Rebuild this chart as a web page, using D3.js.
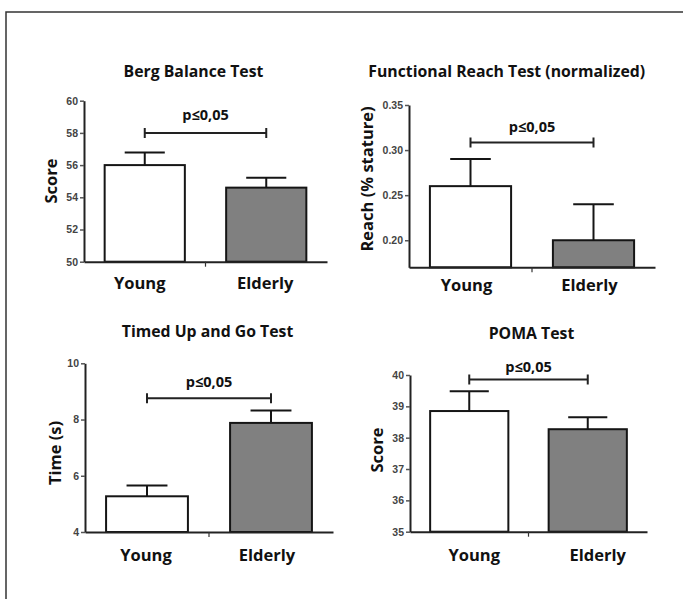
<!DOCTYPE html>
<html>
<head>
<meta charset="utf-8">
<script src="https://cdn.jsdelivr.net/npm/d3@7"></script>
<style>
body { margin: 0; background: #fff; }
svg { display: block; }
</style>
</head>
<body>
<script>
// data
const categories = ['Young', 'Elderly'];
const titles = ['Berg Balance Test', 'Functional Reach Test (normalized)', 'Timed Up and Go Test', 'POMA Test'];
const yLabels = ['Score', 'Reach (% stature)', 'Time (s)', 'Score'];

const bergMean = [56.0, 54.6];
const bergSem = [0.78, 0.62];
const reachMean = [0.26, 0.20];
const reachSem = [0.03, 0.04];
const tugMean = [5.27, 7.88];
const tugSem = [0.38, 0.44];
const pomaMean = [38.85, 38.27];
const pomaSem = [0.63, 0.38];

const bergTicks = [50, 52, 54, 56, 58, 60];
const reachTicks = [0.20, 0.25, 0.30, 0.35];
const tugTicks = [4, 6, 8, 10];
const pomaTicks = [35, 36, 37, 38, 39, 40];

const bergDomain = [50, 60];
const reachDomain = [0.17, 0.35];
const tugDomain = [4, 10];
const pomaDomain = [35, 40];

const sigLevel = [58, 0.3085, 8.76, 39.86];
const sigLabel = 'p\u22640,05';

const svgWidth = 683;
const svgHeight = 599;

// where each panel sits on the page
const layout = [
    {left: 84, right: 327, top: 100.7, bottom: 261.7, titleX: 193.5, titleY: 77, yLabX: 50, yLabY: 181, labDy: 27.5, pDy: 13, fmt: 'd', labShift: [-5, -1]},
    {left: 409, right: 655, top: 105, bottom: 267.3, titleX: 506.7, titleY: 77, yLabX: 366.5, yLabY: 179, labDy: 23.5, pDy: 10, fmt: '.2f', labShift: [-4, -4]},
    {left: 85, right: 333, top: 363.3, bottom: 532, titleX: 207.5, titleY: 336.5, yLabX: 54, yLabY: 453, labDy: 28.7, pDy: 11.5, fmt: 'd', labShift: [-1, -4]},
    {left: 410, right: 647, top: 375, bottom: 531.7, titleX: 531.5, titleY: 339, yLabX: 376.5, yLabY: 450, labDy: 29, pDy: 7.5, fmt: 'd', labShift: [5, 10]}
];

window.onload = main;

function main() {
    const svg = d3.select('body')
        .append('svg')
        .attr('width', svgWidth)
        .attr('height', svgHeight);

    // frame round the figure
    svg.append('path')
        .attr('d', `M6,${svgHeight} L6,12 L${svgWidth},12`)
        .attr('fill', 'none')
        .attr('stroke', '#333')
        .attr('stroke-width', 1.5);

    const means = [bergMean, reachMean, tugMean, pomaMean];
    const sems = [bergSem, reachSem, tugSem, pomaSem];
    const ticks = [bergTicks, reachTicks, tugTicks, pomaTicks];
    const domains = [bergDomain, reachDomain, tugDomain, pomaDomain];

    layout.forEach((l, i) => render_panel(svg, l, i, means[i], sems[i], ticks[i], domains[i]));
}

function render_panel(svg, l, i, mean, sem, ticks, domain) {
    const g = svg.append('g');
    const data = categories.map((c, k) => ({cat: c, mean: mean[k], sem: sem[k]}));

    const x = d3.scaleBand()
        .domain(categories)
        .range([l.left, l.right])
        .paddingInner(0.34)
        .paddingOuter(0.17);

    const y = d3.scaleLinear()
        .domain(domain)
        .range([l.bottom, l.top]);

    const cx = d => x(d.cat) + x.bandwidth() / 2;

    // title
    g.append('text')
        .attr('x', l.titleX)
        .attr('y', l.titleY)
        .attr('text-anchor', 'middle')
        .attr('font-family', '"Open Sans", sans-serif')
        .attr('font-weight', 700)
        .attr('font-size', 15.8)
        .attr('fill', '#111')
        .text(titles[i]);

    // y axis
    const yAxis = g.append('g')
        .attr('transform', `translate(${l.left},0)`)
        .call(d3.axisLeft(y)
            .tickValues(ticks)
            .tickFormat(d3.format(l.fmt))
            .tickSize(4)
            .tickSizeOuter(0)
            .tickPadding(2));
    yAxis.select('.domain').attr('stroke', '#222').attr('stroke-width', 2);
    yAxis.selectAll('.tick line').attr('stroke', '#555').attr('stroke-width', 1.5);
    yAxis.selectAll('.tick text')
        .attr('fill', '#444')
        .attr('font-family', '"Liberation Sans", Arial, sans-serif')
        .attr('font-weight', 700)
        .attr('font-size', 10.5);

    g.append('text')
        .attr('transform', `translate(${l.yLabX},${l.yLabY}) rotate(-90)`)
        .attr('text-anchor', 'middle')
        .attr('dominant-baseline', 'central')
        .attr('font-family', '"Open Sans", sans-serif')
        .attr('font-weight', 700)
        .attr('font-size', 16.5)
        .attr('fill', '#111')
        .text(yLabels[i]);

    // bars
    g.selectAll('rect.bar')
        .data(data)
        .join('rect')
        .attr('class', 'bar')
        .attr('x', d => x(d.cat))
        .attr('y', d => y(d.mean))
        .attr('width', x.bandwidth())
        .attr('height', d => l.bottom - y(d.mean))
        .attr('fill', (d, k) => k === 0 ? '#fff' : '#808080')
        .attr('stroke', '#151515')
        .attr('stroke-width', 2);

    // error bars (upper half only)
    const capW = x.bandwidth() * 0.5;
    g.selectAll('line.whisker')
        .data(data)
        .join('line')
        .attr('class', 'whisker')
        .attr('x1', cx).attr('x2', cx)
        .attr('y1', d => y(d.mean))
        .attr('y2', d => y(d.mean + d.sem))
        .attr('stroke', '#151515')
        .attr('stroke-width', 2);
    g.selectAll('line.cap')
        .data(data)
        .join('line')
        .attr('class', 'cap')
        .attr('x1', d => cx(d) - capW / 2)
        .attr('x2', d => cx(d) + capW / 2)
        .attr('y1', d => y(d.mean + d.sem))
        .attr('y2', d => y(d.mean + d.sem))
        .attr('stroke', '#151515')
        .attr('stroke-width', 2);

    // x axis with a centre tick
    const xAxis = g.append('g')
        .attr('transform', `translate(0,${l.bottom})`)
        .call(d3.axisBottom(x).tickValues([]).tickSizeOuter(0));
    xAxis.select('.domain').attr('stroke', '#222').attr('stroke-width', 2);
    const mid = (l.left + l.right) / 2;
    xAxis.append('line')
        .attr('x1', mid).attr('x2', mid)
        .attr('y1', 0).attr('y2', 5)
        .attr('stroke', '#333')
        .attr('stroke-width', 1.2);

    g.selectAll('text.cat')
        .data(data)
        .join('text')
        .attr('class', 'cat')
        .attr('x', (d, k) => cx(d) + l.labShift[k])
        .attr('y', l.bottom + l.labDy)
        .attr('text-anchor', 'middle')
        .attr('font-family', '"Open Sans", sans-serif')
        .attr('font-weight', 700)
        .attr('font-size', 16.5)
        .attr('fill', '#111')
        .text(d => d.cat);

    // significance bracket
    const sy = y(sigLevel[i]);
    const sx1 = cx(data[0]), sx2 = cx(data[1]);
    g.append('path')
        .attr('d', `M${sx1},${sy} L${sx2},${sy} M${sx1},${sy - 5} L${sx1},${sy + 5} M${sx2},${sy - 5} L${sx2},${sy + 5}`)
        .attr('fill', 'none')
        .attr('stroke', '#222')
        .attr('stroke-width', 2);
    g.append('text')
        .attr('x', (sx1 + sx2) / 2)
        .attr('y', sy - l.pDy)
        .attr('text-anchor', 'middle')
        .attr('font-family', '"Open Sans", sans-serif')
        .attr('font-weight', 700)
        .attr('font-size', 14.5)
        .attr('fill', '#111')
        .text(sigLabel);
}
</script>
</body>
</html>
